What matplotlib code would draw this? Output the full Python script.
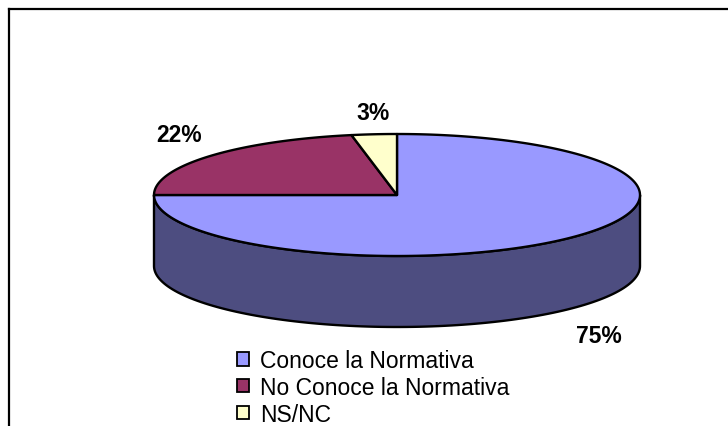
import numpy as np
import matplotlib.pyplot as plt
from matplotlib.patches import Patch

# Data
labels = ['Conoce la Normativa', 'No Conoce la Normativa', 'NS/NC']
values = [75, 22, 3]
pct_labels = ['75%', '22%', '3%']
colors = ['#9999FF', '#993366', '#FFFFCC']
side_colors = ['#4D4D80', '#4D1A33', '#808066']

plt.rcParams['font.family'] = ['Liberation Sans', 'DejaVu Sans']

# pie geometry (pixels)
cx, cy, rx, ry, depth = 397, 196, 243, 61, 71

fig = plt.figure(figsize=(7.28, 4.27), dpi=100)
ax = fig.add_axes([0, 0, 1, 1])
ax.set_xlim(0, 728)
ax.set_ylim(427, 0)
ax.axis('off')


def ell(theta, dy=0):
    t = np.radians(theta)
    return cx + rx * np.cos(t), cy - ry * np.sin(t) + dy


# slice angles, start at 12 o'clock, clockwise
total = sum(values)
bounds = []
start = 90.0
for v in values:
    end = start - 360.0 * v / total
    bounds.append((end, start))
    start = end

# side walls (front half only)
for (a1, a0), sc in zip(bounds, side_colors):
    for lo, hi in [(-180, 0), (180, 360), (-540, -360)]:
        s, e = max(a1, lo), min(a0, hi)
        if e - s <= 0.01:
            continue
        th = np.linspace(s, e, 120)
        xt, yt = ell(th)
        xb, yb = ell(th[::-1], depth)
        ax.fill(np.r_[xt, xb], np.r_[yt, yb], facecolor=sc,
                edgecolor='black', linewidth=1.7, joinstyle='round')

# top faces
for (a1, a0), c in zip(bounds, colors):
    th = np.linspace(a1, a0, 200)
    x, y = ell(th)
    ax.fill(np.r_[cx, x], np.r_[cy, y], facecolor=c,
            edgecolor='black', linewidth=1.7, joinstyle='round')

# percentage labels
gap = 15
for (a1, a0), txt in zip(bounds, pct_labels):
    mid = (a1 + a0) / 2
    c, s = np.cos(np.radians(mid)), np.sin(np.radians(mid))
    px, py = ell(mid, depth if s < 0 else 0)
    px += gap * c * 0.7
    py -= gap * np.sign(s)
    ha = 'center' if abs(c) < 0.3 else ('left' if c > 0 else 'right')
    va = 'top' if s < 0 else 'baseline'
    ax.text(px, py, txt, ha=ha, va=va, fontsize=16.5, fontweight='bold')

# chart frame (left and top edges visible)
ax.plot([9, 9], [427, 10], color='black', linewidth=1.6, solid_capstyle='projecting')
ax.plot([9, 728], [10, 10], color='black', linewidth=1.6, solid_capstyle='projecting')

handles = [Patch(facecolor=c, edgecolor='black', linewidth=1.3) for c in colors]
fig.legend(handles, labels, loc='upper left', bbox_to_anchor=(237 / 728, 1 - 350 / 427),
           frameon=False, fontsize=16.5, handlelength=0.52, handleheight=0.52,
           handletextpad=0.5, labelspacing=0.17, borderpad=0, borderaxespad=0)

plt.savefig('out.png', dpi=100)
